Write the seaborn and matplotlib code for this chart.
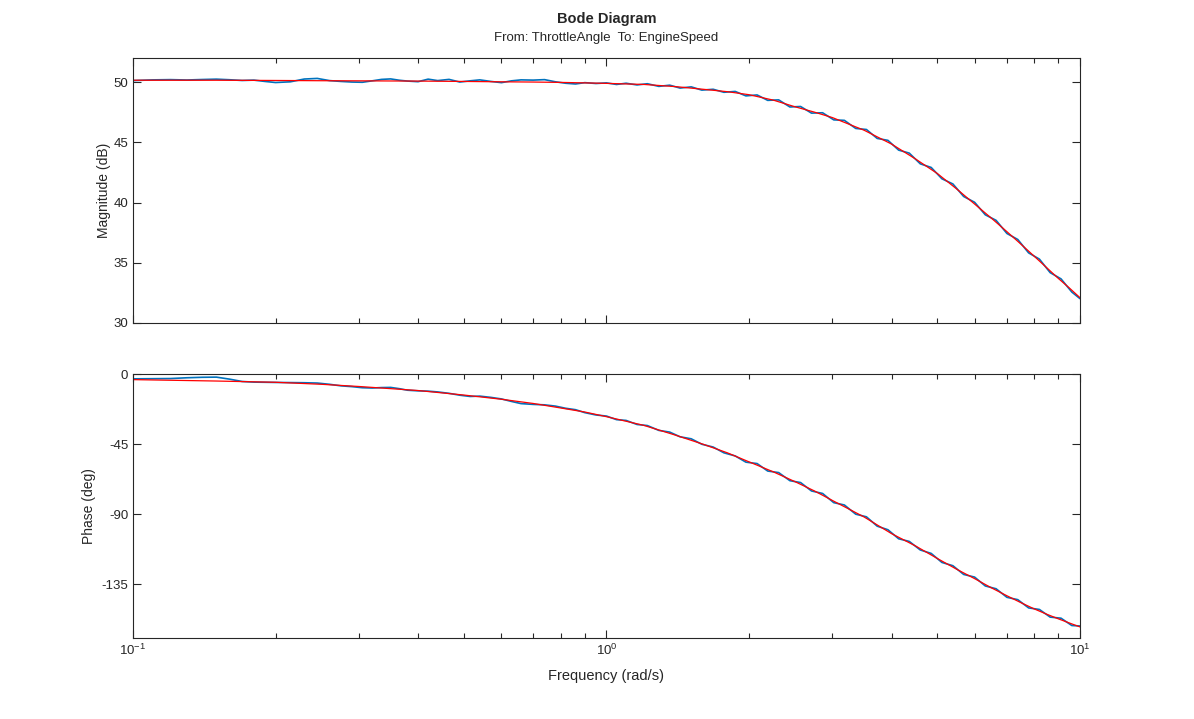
import numpy as np
import pandas as pd
import matplotlib
matplotlib.use("Agg")
import matplotlib.pyplot as plt
import seaborn as sns
from matplotlib.ticker import LogLocator, NullFormatter, FixedLocator

# Fitted model response (red)
model_freq = [0.1, 0.15, 0.2, 0.25, 0.3, 0.4, 0.5, 0.6, 0.7, 0.8, 0.9, 1.0, 1.2, 1.4,
              1.6, 1.8, 2.0, 2.25, 2.5, 2.75, 3.0, 3.5, 4.0, 4.5, 5.0, 5.5, 6.0, 6.5,
              7.0, 7.5, 8.0, 8.5, 9.0, 9.5, 10.0]
model_mag = [50.15, 50.15, 50.13, 50.11, 50.10, 50.08, 50.05, 50.02, 50.00, 49.97, 49.93,
             49.89, 49.80, 49.62, 49.40, 49.20, 48.95, 48.50, 47.95, 47.50, 47.05, 46.00,
             44.85, 43.60, 42.40, 41.10, 39.85, 38.70, 37.60, 36.55, 35.55, 34.60, 33.70,
             32.90, 32.10]
model_phase = [-3.6, -4.5, -5.3, -6.6, -8.0, -10.6, -13.5, -16.2, -18.9, -21.8, -24.4,
               -27.4, -33.0, -39.3, -45.1, -50.6, -56.4, -62.8, -69.1, -75.1, -81.2,
               -91.8, -102.5, -110.5, -118.5, -125.5, -131.5, -137.3, -142.3, -146.8,
               -150.8, -154.2, -157.2, -159.9, -162.4]

# Estimated (non-parametric) response (blue)
est_freq = [0.100, 0.110, 0.120, 0.130, 0.140, 0.150, 0.160, 0.170, 0.180, 0.190, 0.200,
            0.215, 0.230, 0.245, 0.260, 0.275, 0.290, 0.305, 0.320, 0.335, 0.350, 0.365,
            0.380, 0.400, 0.420, 0.440, 0.465, 0.490, 0.515, 0.540, 0.570, 0.600, 0.630,
            0.660, 0.700, 0.740, 0.780, 0.820, 0.860, 0.900, 0.950, 1.000, 1.050, 1.100,
            1.160, 1.220, 1.290, 1.360, 1.430, 1.510, 1.590, 1.680, 1.770, 1.870, 1.970,
            2.080, 2.190, 2.310, 2.440, 2.570, 2.710, 2.860, 3.020, 3.180, 3.360, 3.540,
            3.730, 3.930, 4.140, 4.360, 4.600, 4.850, 5.110, 5.390, 5.680, 5.990, 6.310,
            6.650, 7.010, 7.390, 7.790, 8.210, 8.650, 9.120, 9.610, 10.00]
est_mag = [50.12, 50.18, 50.20, 50.17, 50.21, 50.24, 50.19, 50.13, 50.16, 50.05, 49.96,
           50.02, 50.25, 50.30, 50.12, 50.05, 50.00, 49.98, 50.10, 50.22, 50.26, 50.15,
           50.08, 50.03, 50.24, 50.12, 50.22, 50.00, 50.10, 50.18, 50.05, 49.95, 50.10,
           50.18, 50.16, 50.20, 50.02, 49.90, 49.84, 49.95, 49.88, 49.93, 49.80, 49.90,
           49.76, 49.86, 49.64, 49.74, 49.50, 49.60, 49.33, 49.40, 49.15, 49.22, 48.85,
           48.93, 48.48, 48.52, 47.93, 47.97, 47.42, 47.45, 46.86, 46.82, 46.15, 46.06,
           45.32, 45.16, 44.35, 44.10, 43.21, 42.91, 41.97, 41.54, 40.50, 40.02, 38.98,
           38.52, 37.43, 36.93, 35.82, 35.30, 34.18, 33.66, 32.57, 32.02]
est_phase = [-3.1, -3.0, -2.9, -2.4, -2.1, -2.0, -3.3, -4.8, -5.2, -5.3, -5.4, -5.5, -5.6,
             -5.8, -6.6, -7.6, -8.1, -8.8, -9.0, -8.7, -8.6, -9.4, -10.4, -10.8, -11.0,
             -11.5, -12.4, -13.6, -14.4, -14.2, -15.0, -16.0, -17.6, -19.0, -19.5, -19.8,
             -20.6, -22.0, -22.9, -24.8, -26.3, -27.0, -29.3, -29.8, -32.4, -33.1, -36.2,
             -37.3, -40.3, -41.6, -45.1, -46.9, -50.6, -52.6, -56.6, -57.5, -62.3, -63.3,
             -68.5, -69.7, -75.1, -76.7, -82.6, -84.1, -90.0, -91.7, -97.7, -100.0, -105.8,
             -107.5, -113.0, -115.2, -121.0, -123.1, -128.7, -130.4, -136.1, -137.9,
             -143.4, -144.9, -150.2, -151.2, -156.1, -156.8, -161.5, -161.8]

mag_ticks = [30, 35, 40, 45, 50]
phase_ticks = [-135, -90, -45, 0]

model_df = pd.DataFrame({"freq": model_freq, "mag": model_mag, "phase": model_phase})
est_df = pd.DataFrame({"freq": est_freq, "mag": est_mag, "phase": est_phase})

sns.set_style("ticks")
plt.rcParams["font.family"] = ["Liberation Sans", "DejaVu Sans"]
plt.rcParams["mathtext.default"] = "regular"
plt.rcParams["axes.unicode_minus"] = False

dark = "#262626"
blue = "#0072BD"

fig = plt.figure(figsize=(11.94, 7.19), dpi=100)
ax_mag = fig.add_axes([0.1114, 0.5508, 0.7931, 0.3686])
ax_ph = fig.add_axes([0.1114, 0.1127, 0.7931, 0.3671])

for ax, col in [(ax_mag, "mag"), (ax_ph, "phase")]:
    ax.set_xscale("log")
    sns.lineplot(data=est_df, x="freq", y=col, ax=ax, color=blue, linewidth=1.2,
                 estimator=None, sort=False)
    sns.lineplot(data=model_df, x="freq", y=col, ax=ax, color="red", linewidth=0.9,
                 estimator=None, sort=False)
    ax.set_xlim(0.1, 10)
    ax.xaxis.set_major_locator(LogLocator(base=10))
    ax.xaxis.set_minor_locator(LogLocator(base=10, subs=np.arange(2, 10)))
    ax.xaxis.set_minor_formatter(NullFormatter())
    ax.tick_params(which="both", direction="in", top=True, right=True,
                   colors=dark, labelsize=9.5, width=0.8)
    ax.tick_params(which="major", length=6)
    ax.tick_params(which="minor", length=3.5)
    for s in ax.spines.values():
        s.set_color(dark)
        s.set_linewidth(0.8)

ax_mag.set_ylim(30, 52)
ax_mag.yaxis.set_major_locator(FixedLocator(mag_ticks))
ax_mag.set_xticklabels([])
ax_mag.set_xlabel("")
ax_mag.set_ylabel("Magnitude (dB)", fontsize=10, color=dark, labelpad=2)

ax_ph.set_ylim(-169.5, 0)
ax_ph.yaxis.set_major_locator(FixedLocator(phase_ticks))
ax_ph.set_xlabel("Frequency (rad/s)", fontsize=10.5, color=dark, labelpad=8)
ax_ph.set_ylabel("Phase (deg)", fontsize=10, color=dark, labelpad=4)

fig.text(0.508, 0.974, "Bode Diagram", ha="center", va="center",
         fontsize=10.5, fontweight="bold", color=dark)
fig.text(0.508, 0.947, "From: ThrottleAngle  To: EngineSpeed", ha="center",
         va="center", fontsize=9.5, color=dark)

fig.savefig("out.png", dpi=100)
